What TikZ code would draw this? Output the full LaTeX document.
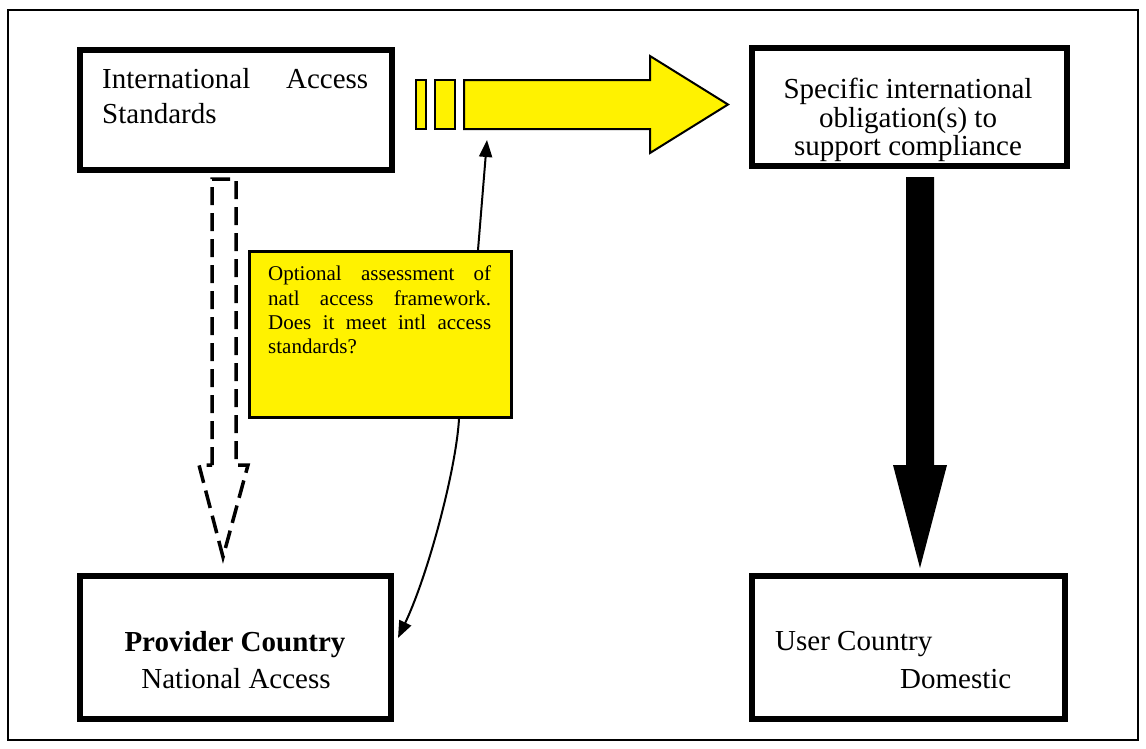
\documentclass[tikz,border=0pt]{standalone}
\usepackage{fontspec}
\setmainfont{Liberation Serif}
\usetikzlibrary{arrows.meta,calc}
\begin{document}
\begin{tikzpicture}[x=1pt,y=-1pt,
  framebox/.style={draw=black, line width=6pt, inner sep=0pt},
  bigtxt/.style={font=\fontsize{29}{35}\selectfont, inner sep=0pt},
  smalltxt/.style={font=\fontsize{21}{24}\selectfont, inner sep=0pt, anchor=base west, text width=223pt},
  conn/.style={line width=2pt, -{Triangle[length=17pt,width=13pt]}},
  yellowblock/.style={fill=yellow, draw=black, line width=2pt, line join=miter},
  dashblock/.style={draw=black, line width=3.5pt, dash pattern=on 18pt off 8pt, line join=miter},
  solidblock/.style={fill=black, draw=none}]
\useasboundingbox (0,0) rectangle (1146,748);
\draw[line width=2pt] (8,10) rectangle (1138,740);

% boxes
\node[framebox, minimum width=312pt, minimum height=120pt] (intl) at (236,110) {};
\node[framebox, minimum width=315pt, minimum height=118pt] (oblig) at (909.5,107) {};
\node[framebox, minimum width=311pt, minimum height=143pt] (prov) at (235.5,647.5) {};
\node[framebox, minimum width=313pt, minimum height=143pt] (user) at (908.5,647.5) {};

% box texts
\node[bigtxt, anchor=base west, text width=266pt] (intlA) at (102,88) {International\hfill Access};
\node[bigtxt, anchor=base west] (intlB) at (102,123) {Standards};
\node[bigtxt, anchor=base] (oblA) at (908,98) {Specific international};
\node[bigtxt, anchor=base] (oblB) at (908,127) {obligation(s) to};
\node[bigtxt, anchor=base] (oblC) at (908,155) {support compliance};
\node[bigtxt, anchor=base, font=\fontsize{29}{35}\selectfont\bfseries] (provA) at (235,651) {Provider Country};
\node[bigtxt, anchor=base] (provB) at (236,688) {National Access};
\node[bigtxt, anchor=base west] (userA) at (775,650) {User Country};
\node[bigtxt, anchor=base west] (userB) at (900,688) {Domestic};

% striped yellow block arrow
\draw[yellowblock] (416,80) rectangle (426,129);
\draw[yellowblock] (435,80) rectangle (455,129);
\draw[yellowblock] (464,80) -- (650,80) -- (650,56) -- (728,104.5) -- (650,153) -- (650,129) -- (464,129) -- cycle;
\coordinate (yatip) at (487,140);

% dashed block arrow
\draw[dashblock] (212,465) -- (212,179) -- (236,179) -- (236,465) -- (248,465) -- (223,557) -- (199,465) -- cycle;

% solid black block arrow
\path[solidblock] (906,177) -- (934,177) -- (934,465) -- (947,465) -- (920,568) -- (893,465) -- (906,465) -- cycle;

% note
\node[draw, line width=3pt, fill=yellow, minimum width=262.5pt, minimum height=166pt, inner sep=0pt] (note) at (380.25,334.5) {};
\node[smalltxt] (noteA) at (268,280.5) {Optional\hfill assessment\hfill of};
\node[smalltxt] (noteB) at (268,305) {natl\hfill access\hfill framework.};
\node[smalltxt] (noteC) at (268,329) {Does\hfill it\hfill meet\hfill intl\hfill access};
\node[smalltxt] (noteD) at (268,353.5) {standards?};

% connectors
\coordinate (ptip) at (398,638);
\draw[conn] ([xshift=97.75pt]note.north) -- (yatip);
\draw[conn] ([xshift=78.75pt]note.south) .. controls (456,470) and (428,575) .. (ptip);
\end{tikzpicture}
\end{document}
